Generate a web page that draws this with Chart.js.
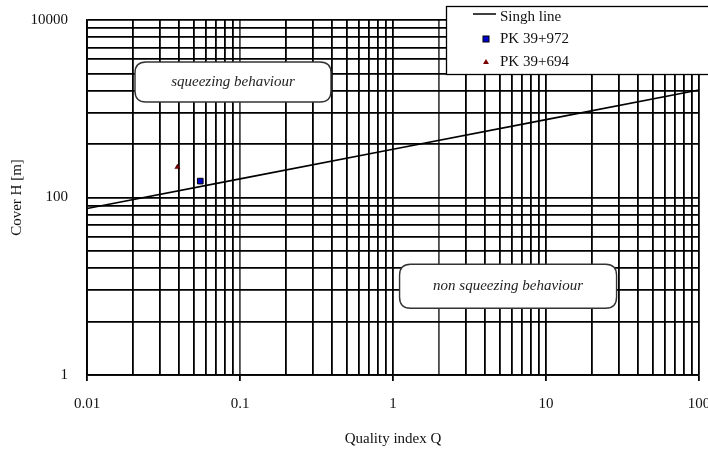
<!DOCTYPE html>
<html>
<head>
<meta charset="utf-8">
<script src="https://cdn.jsdelivr.net/npm/chart.js@4/dist/chart.umd.min.js"></script>
<style>
  html, body { margin: 0; padding: 0; background: #fff; }
  #wrap { width: 708px; height: 452px; position: relative; }
</style>
</head>
<body>
<div id="wrap"><canvas id="chart"></canvas></div>
<script>
// --- Datos ---
const singhQ = [0.01, 0.1, 1, 10, 100];
const singhH = [75, 162, 350, 754, 1625];
const pk972Q = [0.055];
const pk972H = [153];
const pk694Q = [0.039];
const pk694H = [220];

// ticks / rejilla
const xMajorTicks = [0.01, 0.1, 1, 10, 100];
const xMinorSteps = [1, 2, 3, 4, 5, 6, 7, 8, 9];
const xGreyLines = [0.1, 2];
const yMajorTicks = [1, 100, 10000];
const yMinorSteps = [1, 4, 9, 16, 25, 36, 49, 64, 81];

// zonas de texto (coordenadas en datos)
const zones = [
    { text: 'squeezing behaviour', q: 0.09, h: 2000, w: 196, hgt: 40 },
    { text: 'non squeezing behaviour', q: 5.65, h: 10, w: 217, hgt: 44 }
];

function buildTicks(majors, steps) {
    const out = [];
    majors.forEach((m, i) => {
        if (i === majors.length - 1) { out.push(m); return; }
        steps.forEach(s => out.push(Number((m * s).toPrecision(4))));
    });
    return out;
}
const xGrid = buildTicks(xMajorTicks, xMinorSteps);
const yGrid = buildTicks(yMajorTicks, yMinorSteps);

const FONT = 'Liberation Serif, Times New Roman, serif';
Chart.defaults.font.family = FONT;
Chart.defaults.color = '#111';

// --- Plugin: cajas de texto y leyenda ---
function roundRect(ctx, x, y, w, h, r) {
    ctx.beginPath();
    ctx.moveTo(x + r, y);
    ctx.lineTo(x + w - r, y);
    ctx.quadraticCurveTo(x + w, y, x + w, y + r);
    ctx.lineTo(x + w, y + h - r);
    ctx.quadraticCurveTo(x + w, y + h, x + w - r, y + h);
    ctx.lineTo(x + r, y + h);
    ctx.quadraticCurveTo(x, y + h, x, y + h - r);
    ctx.lineTo(x, y + r);
    ctx.quadraticCurveTo(x, y, x + r, y);
    ctx.closePath();
}

const overlayPlugin = {
    id: 'overlay',
    afterDraw(chart) {
        const ctx = chart.ctx;
        const xs = chart.scales.x, ys = chart.scales.y;
        ctx.save();
        // zonas
        zones.forEach(z => {
            const cx = xs.getPixelForValue(z.q);
            const cy = ys.getPixelForValue(z.h);
            roundRect(ctx, cx - z.w / 2, cy - z.hgt / 2, z.w, z.hgt, 11);
            ctx.fillStyle = '#fff';
            ctx.fill();
            ctx.strokeStyle = '#333';
            ctx.lineWidth = 1.4;
            ctx.stroke();
            ctx.fillStyle = '#222';
            ctx.font = 'italic 15px ' + FONT;
            ctx.textAlign = 'center';
            ctx.textBaseline = 'middle';
            ctx.fillText(z.text, cx, cy);
        });

        // leyenda
        ctx.fillStyle = '#fff';
        ctx.fillRect(446, 6, 270, 69);
        ctx.strokeStyle = '#000';
        ctx.lineWidth = 1.3;
        ctx.strokeRect(446.5, 6.5, 270, 68);
        const rowY = [17, 39, 62];
        ctx.font = '15px ' + FONT;
        ctx.textAlign = 'left';
        ctx.textBaseline = 'middle';
        chart.data.datasets.forEach((ds, i) => {
            const y = rowY[i];
            if (ds.showLine) {
                ctx.strokeStyle = '#000';
                ctx.lineWidth = 1.5;
                ctx.beginPath();
                ctx.moveTo(473, 14);
                ctx.lineTo(496, 14);
                ctx.stroke();
            } else if (ds.pointStyle === 'rect') {
                ctx.fillStyle = ds.backgroundColor;
                ctx.fillRect(483, y - 3, 6, 6);
                ctx.strokeStyle = '#000';
                ctx.lineWidth = 1;
                ctx.strokeRect(483, y - 3, 6, 6);
            } else {
                ctx.fillStyle = ds.backgroundColor;
                ctx.beginPath();
                ctx.moveTo(486, y - 3);
                ctx.lineTo(489, y + 2);
                ctx.lineTo(483, y + 2);
                ctx.closePath();
                ctx.fill();
            }
            ctx.fillStyle = '#111';
            ctx.fillText(ds.label, 500, y);
        });
        ctx.restore();
    }
};

const toPoints = (qs, hs) => qs.map((q, i) => ({ x: q, y: hs[i] }));

new Chart(document.getElementById('chart'), {
    type: 'scatter',
    data: {
        datasets: [
            {
                label: 'Singh line',
                data: toPoints(singhQ, singhH),
                showLine: true,
                borderColor: '#000',
                borderWidth: 1.6,
                pointRadius: 0,
                backgroundColor: '#000'
            },
            {
                label: 'PK 39+972',
                data: toPoints(pk972Q, pk972H),
                pointStyle: 'rect',
                pointRadius: 4,
                backgroundColor: '#0000cc',
                borderColor: '#000',
                borderWidth: 1
            },
            {
                label: 'PK 39+694',
                data: toPoints(pk694Q, pk694H),
                pointStyle: 'triangle',
                pointRadius: 3,
                backgroundColor: '#7a0000',
                borderColor: '#3a0000',
                borderWidth: 0.5
            }
        ]
    },
    options: {
        responsive: true,
        maintainAspectRatio: false,
        animation: false,
        layout: { padding: { top: 20, right: 9, left: 0, bottom: 2 } },
        plugins: {
            legend: { display: false },
            tooltip: { enabled: false }
        },
        scales: {
            x: {
                type: 'logarithmic',
                min: 0.01,
                max: 100,
                afterBuildTicks: s => { s.ticks = xGrid.map(v => ({ value: v })); },
                afterFit: s => { s.height = 75; s.paddingLeft = 0; s.paddingRight = 0; },
                grid: {
                    color: c => (c.tick && xGreyLines.includes(c.tick.value)) ? '#4a4a4a' : '#000',
                    lineWidth: 1.8,
                    tickLength: 6,
                    tickColor: c => (c.tick && xMajorTicks.includes(c.tick.value)) ? '#000' : 'rgba(0,0,0,0)'
                },
                border: { color: '#000', width: 1.8 },
                ticks: {
                    autoSkip: false,
                    maxRotation: 0,
                    padding: 14,
                    font: { size: 15 },
                    color: '#111',
                    callback: v => xMajorTicks.includes(v) ? String(v) : ''
                },
                title: {
                    display: true,
                    text: 'Quality index Q',
                    font: { size: 15 },
                    color: '#111',
                    padding: { top: 4, bottom: 2 }
                }
            },
            y: {
                type: 'logarithmic',
                min: 1,
                max: 10000,
                afterBuildTicks: s => { s.ticks = yGrid.map(v => ({ value: v })); },
                afterFit: s => { s.width = 87; s.paddingTop = 0; s.paddingBottom = 0; },
                grid: { color: '#000', lineWidth: 1.8, drawTicks: false },
                border: { color: '#000', width: 1.8 },
                ticks: {
                    autoSkip: false,
                    padding: 19,
                    font: { size: 15 },
                    color: '#111',
                    callback: v => yMajorTicks.includes(v) ? String(v) : ''
                },
                title: {
                    display: true,
                    text: 'Cover H [m]',
                    font: { size: 15 },
                    color: '#111',
                    padding: { top: 8, bottom: 0 }
                }
            }
        }
    },
    plugins: [overlayPlugin]
});
</script>
</body>
</html>
